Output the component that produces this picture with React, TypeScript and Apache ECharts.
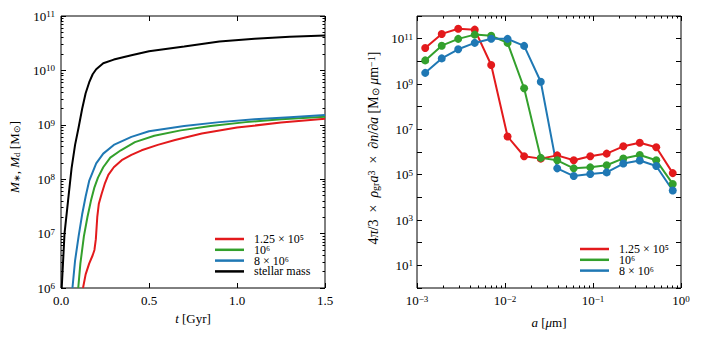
import React, { useEffect, useRef } from 'react';
import * as echarts from 'echarts';

const FONT = 'Liberation Serif';
const RED = '#e31a1c';
const GREEN = '#33a02c';
const BLUE = '#1f78b4';

// ---- left panel: masses vs time ----
const tBlack = [0.004, 0.02, 0.04, 0.06, 0.08, 0.10, 0.12, 0.14, 0.16, 0.18, 0.20, 0.24, 0.30, 0.40, 0.50, 0.70, 0.90, 1.10, 1.30, 1.50];
const mBlack = [1.0e6, 1.0e7, 4.0e7, 1.58e8, 4.27e8, 8.9e8, 1.95e9, 3.8e9, 6.0e9, 8.5e9, 1.05e10, 1.35e10, 1.58e10, 1.9e10, 2.24e10, 2.75e10, 3.39e10, 3.8e10, 4.17e10, 4.37e10];

const tBlue = [0.065, 0.08, 0.10, 0.12, 0.14, 0.16, 0.18, 0.20, 0.24, 0.30, 0.40, 0.50, 0.70, 0.90, 1.10, 1.30, 1.50];
const mBlue = [1.0e6, 3.2e6, 8.9e6, 2.24e7, 4.8e7, 9.3e7, 1.35e8, 1.95e8, 2.95e8, 4.27e8, 6.0e8, 7.6e8, 9.5e8, 1.12e9, 1.26e9, 1.38e9, 1.51e9];

const tGreen = [0.098, 0.11, 0.13, 0.15, 0.17, 0.19, 0.21, 0.24, 0.28, 0.34, 0.42, 0.53, 0.68, 0.85, 1.05, 1.25, 1.5];
const mGreen = [1.0e6, 2.8e6, 8.9e6, 2.0e7, 4.0e7, 7.1e7, 1.07e8, 1.66e8, 2.5e8, 3.4e8, 4.8e8, 6.3e8, 7.9e8, 9.5e8, 1.12e9, 1.26e9, 1.41e9];

const tRed = [0.125, 0.14, 0.16, 0.18, 0.19, 0.198, 0.206, 0.215, 0.231, 0.25, 0.269, 0.30, 0.345, 0.40, 0.458, 0.55, 0.648, 0.80, 1.0, 1.25, 1.5];
const mRed = [1.0e6, 1.78e6, 2.8e6, 4.0e6, 5.0e6, 7.9e6, 2.0e7, 3.55e7, 5.4e7, 8.5e7, 1.2e8, 1.66e8, 2.24e8, 2.8e8, 3.4e8, 4.27e8, 5.25e8, 6.9e8, 8.9e8, 1.1e9, 1.29e9];

const leftYTicks = [1e6, 1e7, 1e8, 1e9, 1e10, 1e11];
const leftYMinor = [2e6, 3e6, 4e6, 5e6, 6e6, 7e6, 8e6, 9e6, 2e7, 3e7, 4e7, 5e7, 6e7, 7e7, 8e7, 9e7, 2e8, 3e8, 4e8, 5e8, 6e8, 7e8, 8e8, 9e8, 2e9, 3e9, 4e9, 5e9, 6e9, 7e9, 8e9, 9e9, 2e10, 3e10, 4e10, 5e10, 6e10, 7e10, 8e10, 9e10];
const leftXTicks = [0, 0.5, 1.0, 1.5];

// ---- right panel: grain size distribution ----
const sizeA = [0.00124, 0.00191, 0.00294, 0.00453, 0.00697, 0.0107, 0.0165, 0.0255, 0.0392, 0.0604, 0.0931, 0.143, 0.221, 0.340, 0.523, 0.806];
const dRed = [3.9e10, 1.62e11, 2.75e11, 2.5e11, 6.9e9, 4.8e6, 6.5e5, 5.1e5, 7.1e5, 4.3e5, 6.5e5, 8.5e5, 1.78e6, 2.57e6, 1.62e6, 1.17e5];
const dGreen = [1.1e10, 4.9e10, 9.8e10, 1.51e11, 1.35e11, 6.5e10, 6.5e8, 5.5e5, 4.3e5, 1.9e5, 2.1e5, 2.6e5, 5.2e5, 7.4e5, 4.3e5, 3.9e4];
const dBlue = [3.1e9, 1.35e10, 3.4e10, 6.5e10, 1.0e11, 9.8e10, 4.8e10, 1.26e9, 1.9e5, 8.7e4, 1.07e5, 1.26e5, 3.1e5, 4.2e5, 2.4e5, 2.0e4];

const rightXTicks = [0.001, 0.01, 0.1, 1];
const rightXMinor = [0.002, 0.003, 0.004, 0.005, 0.006, 0.007, 0.008, 0.009, 0.02, 0.03, 0.04, 0.05, 0.06, 0.07, 0.08, 0.09, 0.2, 0.3, 0.4, 0.5, 0.6, 0.7, 0.8, 0.9];
const rightYTicks = [1, 1e1, 1e2, 1e3, 1e4, 1e5, 1e6, 1e7, 1e8, 1e9, 1e10, 1e11, 1e12];
const rightYLabels = [1e1, 1e3, 1e5, 1e7, 1e9, 1e11];

const legendTexts: Record<string, string> = {
  tR: '1.25 × 10⁵',
  tG: '10⁶',
  tB: '8 × 10⁶',
  tK: 'stellar mass',
  aR: '1.25 × 10⁵',
  aG: '10⁶',
  aB: '8 × 10⁶',
};

const mk = (size: number, supSize: number) => ({
  b: { fontSize: size, fontFamily: FONT, color: '#000', verticalAlign: 'bottom', lineHeight: size },
  i: { fontSize: size, fontFamily: FONT, fontStyle: 'italic', color: '#000', verticalAlign: 'bottom', lineHeight: size },
  s: { fontSize: supSize, fontFamily: FONT, color: '#000', verticalAlign: 'top', lineHeight: supSize, padding: [0, 0, Math.round(size * 0.62), 0] },
  sub: { fontSize: supSize, fontFamily: FONT, color: '#000', verticalAlign: 'bottom', lineHeight: supSize, padding: [Math.round(size * 0.45), 0, 0, 0] },
});
const rich: any = mk(13, 9);
const richBig: any = mk(14, 10);

const pow10 = (v: number) => {
  const e = Math.round(Math.log10(v));
  return `{b|10}{s|${e < 0 ? '−' + -e : e}}`;
};

const zip = (xs: number[], ys: number[]) => xs.map((x, k) => [x, ys[k]]);

const hidden = { show: false };
const tickAxis = (extra: any) => ({
  axisLine: hidden,
  splitLine: hidden,
  axisLabel: { show: false },
  ...extra,
});

export default function App() {
  const ref = useRef<HTMLDivElement>(null);
  useEffect(() => {
    if (!ref.current) return;
    const chart = echarts.init(ref.current, undefined, { renderer: 'svg' });
    const major = { show: true, inside: true, length: 5, lineStyle: { color: '#000', width: 1 } };
    const minor = { show: true, inside: true, length: 2.5, lineStyle: { color: '#000', width: 1 } };
    const legendBase = {
      orient: 'vertical', icon: 'rect', itemWidth: 29, itemHeight: 2.5, itemGap: -1.2, align: 'left', padding: 0,
      textStyle: { fontSize: 12, fontFamily: FONT, color: '#000', lineHeight: 11.6, padding: [0, 0, 0, 5] },
    };
    const lbl = { fontFamily: FONT, color: '#000', fontSize: 13 };

    const option: any = {
      animation: false,
      textStyle: { fontFamily: FONT },
      grid: [
        { left: 61, top: 16, width: 264, height: 272, show: true, borderColor: '#000', borderWidth: 1, containLabel: false },
        { left: 417, top: 16, width: 264, height: 272, show: true, borderColor: '#000', borderWidth: 1, containLabel: false },
      ],
      xAxis: [
        tickAxis({
          gridIndex: 0, type: 'value', position: 'bottom', min: 0, max: 1.5, interval: 0.5,
          axisTick: { ...major, customValues: leftXTicks },
          axisLabel: { ...lbl, show: true, margin: 6, formatter: (v: number) => `{b|${v.toFixed(1)}}`, rich, customValues: leftXTicks },
          name: '{i|t}{b| [Gyr]}', nameLocation: 'middle', nameGap: 13, nameTextStyle: { ...lbl, rich },
        }),
        tickAxis({ gridIndex: 0, type: 'value', position: 'top', min: 0, max: 1.5, interval: 0.5, axisTick: { ...major, customValues: leftXTicks } }),
        tickAxis({
          gridIndex: 1, type: 'log', logBase: 10, position: 'bottom', min: 0.001, max: 1,
          axisTick: { ...major, customValues: rightXTicks },
          axisLabel: { ...lbl, show: true, margin: 6, formatter: pow10, rich, customValues: rightXTicks },
          name: '{i|a}{b| [}{i|μ}{b|m]}', nameLocation: 'middle', nameGap: 13, nameTextStyle: { ...lbl, rich },
        }),
        tickAxis({ gridIndex: 1, type: 'log', logBase: 10, position: 'bottom', min: 0.001, max: 1, axisTick: { ...minor, customValues: rightXMinor } }),
        tickAxis({ gridIndex: 1, type: 'log', logBase: 10, position: 'top', min: 0.001, max: 1, axisTick: { ...major, customValues: rightXTicks } }),
        tickAxis({ gridIndex: 1, type: 'log', logBase: 10, position: 'top', min: 0.001, max: 1, axisTick: { ...minor, customValues: rightXMinor } }),
      ],
      yAxis: [
        tickAxis({
          gridIndex: 0, type: 'log', logBase: 10, position: 'left', min: 1e6, max: 1e11,
          axisTick: { ...major, customValues: leftYTicks },
          axisLabel: { ...lbl, show: true, margin: 6, formatter: pow10, rich, customValues: leftYTicks },
          name: '{i|M}{sub|∗}{b|, }{i|M}{sub|d}{b| [M}{sub|⊙}{b|]}', nameLocation: 'middle', nameGap: 40, nameRotate: 90,
          nameTextStyle: { ...lbl, rich, padding: [0, 10, 0, 0] },
        }),
        tickAxis({ gridIndex: 0, type: 'log', logBase: 10, position: 'left', min: 1e6, max: 1e11, axisTick: { ...minor, customValues: leftYMinor } }),
        tickAxis({ gridIndex: 0, type: 'log', logBase: 10, position: 'right', min: 1e6, max: 1e11, axisTick: { ...major, customValues: leftYTicks } }),
        tickAxis({ gridIndex: 0, type: 'log', logBase: 10, position: 'right', min: 1e6, max: 1e11, axisTick: { ...minor, customValues: leftYMinor } }),
        tickAxis({
          gridIndex: 1, type: 'log', logBase: 10, position: 'left', min: 1, max: 1e12,
          axisTick: { ...major, customValues: rightYTicks },
          axisLabel: { ...lbl, show: true, margin: 4, formatter: pow10, rich, customValues: rightYLabels },
          name: '{b|4}{i|π}{b|/3  ×  }{i|ρ}{sub|gr}{i|a}{s|3}{b|  ×  ∂}{i|n}{b|/∂}{i|a}{b| [M}{sub|⊙}{b| }{i|μ}{b|m}{s|−1}{b|]}',
          nameLocation: 'middle', nameGap: 37, nameRotate: 90,
          nameTextStyle: { ...lbl, rich: richBig, padding: [0, 0, 0, 8] },
        }),
        tickAxis({ gridIndex: 1, type: 'log', logBase: 10, position: 'right', min: 1, max: 1e12, axisTick: { ...major, customValues: rightYTicks } }),
      ],
      legend: [
        { ...legendBase, data: ['tR', 'tG', 'tB', 'tK'], left: 215, top: 233, formatter: (n: string) => legendTexts[n] },
        { ...legendBase, data: ['aR', 'aG', 'aB'], left: 580, top: 243, formatter: (n: string) => legendTexts[n] },
      ],
      series: [
        { name: 'tR', type: 'line', xAxisIndex: 0, yAxisIndex: 0, data: zip(tRed, mRed), showSymbol: false, lineStyle: { color: RED, width: 2 }, itemStyle: { color: RED } },
        { name: 'tG', type: 'line', xAxisIndex: 0, yAxisIndex: 0, data: zip(tGreen, mGreen), showSymbol: false, lineStyle: { color: GREEN, width: 2 }, itemStyle: { color: GREEN } },
        { name: 'tB', type: 'line', xAxisIndex: 0, yAxisIndex: 0, data: zip(tBlue, mBlue), showSymbol: false, lineStyle: { color: BLUE, width: 2 }, itemStyle: { color: BLUE } },
        { name: 'tK', type: 'line', xAxisIndex: 0, yAxisIndex: 0, data: zip(tBlack, mBlack), showSymbol: false, lineStyle: { color: '#000', width: 2 }, itemStyle: { color: '#000' } },
        { name: 'aR', type: 'line', xAxisIndex: 2, yAxisIndex: 4, data: zip(sizeA, dRed), symbol: 'circle', symbolSize: 8, lineStyle: { color: RED, width: 2 }, itemStyle: { color: RED } },
        { name: 'aG', type: 'line', xAxisIndex: 2, yAxisIndex: 4, data: zip(sizeA, dGreen), symbol: 'circle', symbolSize: 8, lineStyle: { color: GREEN, width: 2 }, itemStyle: { color: GREEN } },
        { name: 'aB', type: 'line', xAxisIndex: 2, yAxisIndex: 4, data: zip(sizeA, dBlue), symbol: 'circle', symbolSize: 8, lineStyle: { color: BLUE, width: 2 }, itemStyle: { color: BLUE } },
      ],
    };
    chart.setOption(option);
    return () => chart.dispose();
  }, []);
  return <div ref={ref} style={{ position: 'absolute', left: 0, top: 0, width: 701, height: 337, background: '#fff' }} />;
}
